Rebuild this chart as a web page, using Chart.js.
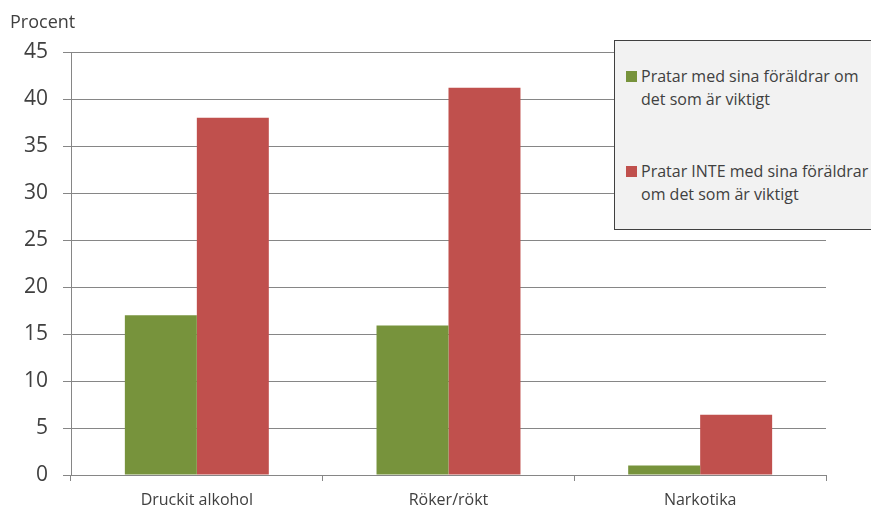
<!DOCTYPE html>
<html>
<head>
<meta charset="utf-8">
<script src="https://cdn.jsdelivr.net/npm/chart.js@4"></script>
<style>
  html, body { margin: 0; padding: 0; background: #fff; }
  #wrap { position: relative; width: 871px; height: 509px; overflow: hidden; }
  #yTitle { position: absolute; left: 10px; top: 9px; font: 18px "Open Sans", sans-serif; color: #404040; }
  #legend { position: absolute; left: 614px; top: 40px; width: 270px; height: 188px;
    background: #f2f2f2; border: 1px solid #404040; font: 16px "Open Sans", sans-serif; color: #404040; }
  .item { position: absolute; left: 11px; width: 250px; line-height: 23px; }
  .sw { position: absolute; left: 0; top: 6px; width: 11px; height: 11px; }
  .txt { padding-left: 15px; }
</style>
</head>
<body>
<div id="wrap">
  <canvas id="c" width="871" height="509"></canvas>
  <div id="yTitle">Procent</div>
  <div id="legend"></div>
</div>
<script>
const categories = ['Druckit alkohol', 'Röker/rökt', 'Narkotika'];
const seriesNames = ['Pratar med sina föräldrar om det som är viktigt',
                     'Pratar INTE med sina föräldrar om det som är viktigt'];
const talksValues = [17.0, 15.9, 1.0];
const notTalksValues = [38.0, 41.2, 6.4];
const seriesColors = ['#77933c', '#c0504d'];

// legend drawn as html box on top of the plot
const legendTops = [24, 119];
const legend = document.getElementById('legend');
seriesNames.forEach((name, i) => {
    const el = document.createElement('div');
    el.className = 'item';
    el.style.top = legendTops[i] + 'px';
    el.innerHTML = '<span class="sw" style="background:' + seriesColors[i] + '"></span><div class="txt">' + name + '</div>';
    legend.appendChild(el);
});

const ctx = document.getElementById('c').getContext('2d');
new Chart(ctx, {
    type: 'bar',
    data: {
        labels: categories,
        datasets: [
            { label: seriesNames[0], data: talksValues, backgroundColor: seriesColors[0] },
            { label: seriesNames[1], data: notTalksValues, backgroundColor: seriesColors[1] }
        ]
    },
    options: {
        responsive: false,
        animation: false,
        layout: { padding: { top: 52, right: 45, left: 0, bottom: 0 } },
        datasets: { bar: { categoryPercentage: 0.572, barPercentage: 1.0 } },
        scales: {
            x: {
                grid: { display: true, drawOnChartArea: false, offset: true, tickLength: 6, color: '#868686' },
                border: { color: '#868686' },
                ticks: { font: { family: 'Open Sans', size: 16 }, color: '#404040', padding: 10 },
                afterFit: (s) => { s.height = 34; }
            },
            y: {
                min: 0, max: 45,
                ticks: { stepSize: 5, font: { family: 'Open Sans', size: 21 }, color: '#404040', padding: 15 },
                grid: { color: '#868686', tickLength: 8 },
                border: { color: '#868686' },
                afterFit: (s) => { s.width = 71; }
            }
        },
        plugins: {
            legend: { display: false },
            tooltip: { enabled: false }
        }
    }
});
</script>
</body>
</html>
